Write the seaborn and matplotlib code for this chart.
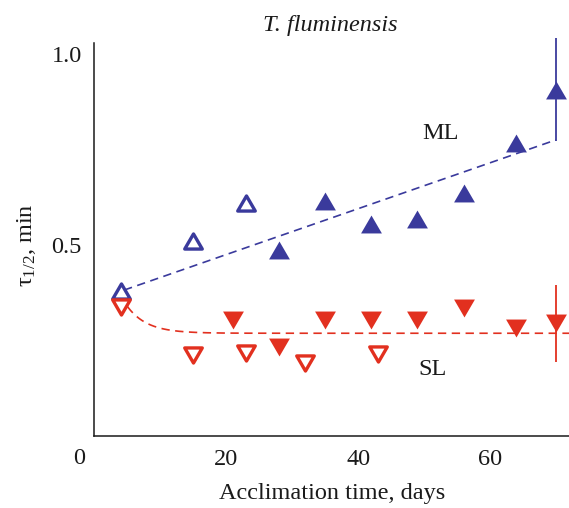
import numpy as np
import pandas as pd
import matplotlib
matplotlib.use("Agg")
import matplotlib.pyplot as plt
import seaborn as sns
from matplotlib.path import Path

# Half-time of recovery (min) vs acclimation time (days)
ml_open_days = [4, 15, 23]
ml_open_tau = [0.38, 0.51, 0.61]
ml_days = [28, 35, 42, 49, 56, 64, 70]
ml_tau = [0.487, 0.615, 0.555, 0.568, 0.636, 0.767, 0.906]
ml_err = 0.135

sl_open_days = [4, 15, 23, 32, 43]
sl_open_tau = [0.338, 0.212, 0.216, 0.192, 0.214]
sl_days = [21, 28, 35, 42, 49, 56, 64, 70]
sl_tau = [0.304, 0.234, 0.304, 0.304, 0.304, 0.334, 0.282, 0.295]
sl_err = 0.10

# Fitted trends
ml_intercept, ml_slope = 0.355, 0.006
sl_plateau, sl_amp, sl_t0, sl_k = 0.269, 0.07, 5.0, 3.0

x_ticks = [20, 40, 60]
y_ticks = [0.5, 1.0]

BLUE = "#3a3a9c"
RED = "#e2301f"
INK = "#1a1a1a"

sns.set_style("white")
plt.rcParams["font.family"] = ["Liberation Serif", "DejaVu Serif"]
plt.rcParams["mathtext.fontset"] = "custom"
plt.rcParams["mathtext.rm"] = "Liberation Serif"
plt.rcParams["mathtext.it"] = "Liberation Serif:italic"

fig = plt.figure(figsize=(5.69, 5.08), dpi=100)
ax = fig.add_axes([0.166, 0.1417, 0.834, 0.7746])

# fit lines
fit_ml = pd.DataFrame({"day": np.linspace(4.5, 70, 50)})
fit_ml["tau"] = ml_intercept + ml_slope * fit_ml["day"]
fit_sl = pd.DataFrame({"day": np.linspace(sl_t0, 72, 300)})
fit_sl["tau"] = sl_plateau + sl_amp * np.exp(-(fit_sl["day"] - sl_t0) / sl_k)

sns.lineplot(data=fit_ml, x="day", y="tau", ax=ax, color=BLUE, lw=1.2,
             linestyle=(0, (5, 3.3)), zorder=1)
sns.lineplot(data=fit_sl, x="day", y="tau", ax=ax, color=RED, lw=1.2,
             linestyle=(0, (5, 3.3)), zorder=1, clip_on=False)

# error bars on last points
ax.vlines([ml_days[-1]], ml_tau[-1] - ml_err, ml_tau[-1] + ml_err,
          color=BLUE, lw=1.3, zorder=2, clip_on=False)
ax.vlines([sl_days[-1]], sl_tau[-1] - sl_err, sl_tau[-1] + sl_err,
          color=RED, lw=1.3, zorder=2, clip_on=False)

h = 0.86
codes = [Path.MOVETO, Path.LINETO, Path.LINETO, Path.CLOSEPOLY]
tri_up = Path([(-1, -h), (1, -h), (0, h), (-1, -h)], codes)
tri_dn = Path([(-1, h), (1, h), (0, -h), (-1, h)], codes)

sns.scatterplot(x=ml_days, y=ml_tau, ax=ax, marker=tri_up, s=225,
                color=BLUE, edgecolor=BLUE, linewidth=0, zorder=3)
sns.scatterplot(x=ml_open_days, y=ml_open_tau, ax=ax, marker=tri_up, s=160,
                color=BLUE, facecolor="white", edgecolor=BLUE, linewidth=2.4,
                zorder=3)
sns.scatterplot(x=sl_days, y=sl_tau, ax=ax, marker=tri_dn, s=225,
                color=RED, edgecolor=RED, linewidth=0, zorder=3)
sns.scatterplot(x=sl_open_days, y=sl_open_tau, ax=ax, marker=tri_dn, s=160,
                color=RED, facecolor="white", edgecolor=RED, linewidth=2.4,
                zorder=3)

ax.set_xlim(0, 72)
ax.set_ylim(0, 1.03)
ax.set_xticks(x_ticks)
ax.set_yticks(y_ticks)
ax.set_xticklabels([str(t) for t in x_ticks])
ax.set_yticklabels([f"{t:.1f}" for t in y_ticks])
ax.tick_params(direction="in", length=5, width=1.0, color=INK,
               labelsize=17.5, labelcolor=INK)
ax.tick_params(axis="x", pad=9)
ax.tick_params(axis="y", pad=9)
for side in ("top", "right"):
    ax.spines[side].set_visible(False)
for side in ("left", "bottom"):
    ax.spines[side].set_color(INK)
    ax.spines[side].set_linewidth(1.1)
ax.set_xlabel("")
ax.set_ylabel("")

ax.text(52.5, 0.793, "ML", fontsize=17.5, color=INK, ha="center", va="center")
ax.text(51.3, 0.173, "SL", fontsize=17.5, color=INK, ha="center", va="center")

fig.text(330 / 569, 1 - 25 / 508, "T. fluminensis", fontsize=17.5,
         style="italic", color=INK, ha="center", va="center")
fig.text(332 / 569, 1 - 493 / 508, "Acclimation time, days", fontsize=17.5,
         color=INK, ha="center", va="center")
fig.text(26 / 569, 1 - 245 / 508, r"τ$_{1/2}$, min", fontsize=17.5,
         color=INK, ha="center", va="center", rotation=90)
fig.text(79 / 569, 1 - 458 / 508, "0", fontsize=17.5, color=INK,
         ha="center", va="center")

fig.savefig("out.png", dpi=100)
